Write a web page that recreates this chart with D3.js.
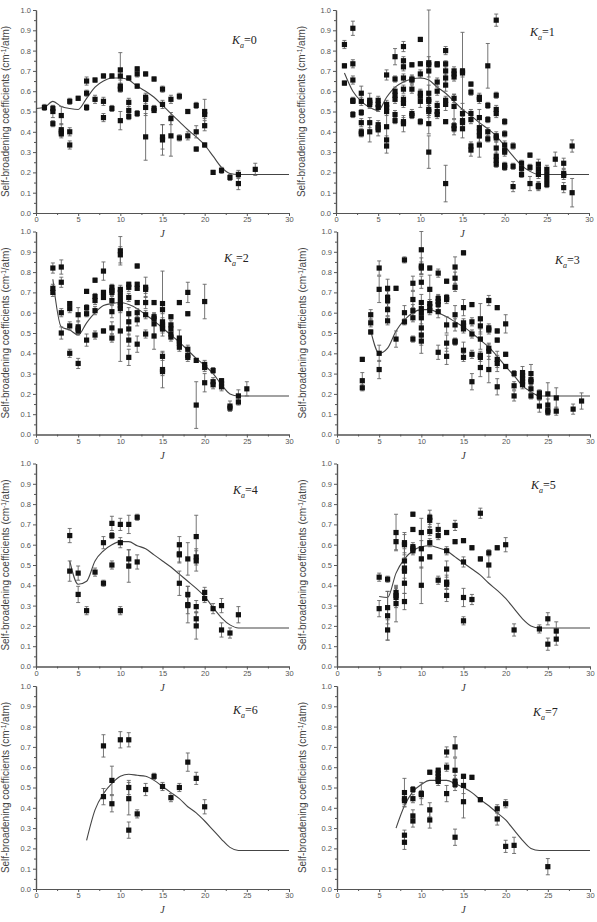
<!DOCTYPE html>
<html>
<head>
<meta charset="utf-8">
<script src="https://cdn.jsdelivr.net/npm/d3@7"></script>
<style>
  body { margin: 0; background: #fff; }
  svg { display: block; }
</style>
</head>
<body>
<div id="chart"></div>
<script>
// data: [J, coefficient, error]
var ka0 = [
  [1,0.52,0.015],[2,0.515,0.015],[2,0.50,0.03],[2,0.44,0.015],[3,0.48,0.045],[3,0.41,0.03],[3,0.40,0.02],[3,0.39,0.02],
  [4,0.55,0.015],[4,0.40,0.02],[4,0.335,0.02],[5,0.565,0.01],[6,0.65,0.02],[6,0.59,0.015],[6,0.52,0.015],
  [7,0.655,0.01],[7,0.56,0.02],[8,0.675,0.01],[8,0.55,0.02],[8,0.47,0.02],[9,0.675,0.01],[9,0.515,0.015],
  [10,0.705,0.085],[10,0.675,0.02],[10,0.625,0.015],[10,0.61,0.015],[10,0.455,0.045],
  [11,0.665,0.01],[11,0.545,0.02],[11,0.505,0.02],[11,0.475,0.015],
  [12,0.71,0.01],[12,0.685,0.015],[12,0.625,0.01],[12,0.49,0.015],
  [13,0.685,0.01],[13,0.57,0.02],[13,0.56,0.02],[13,0.52,0.04],[13,0.375,0.115],
  [14,0.66,0.01],[14,0.515,0.015],[14,0.505,0.01],
  [15,0.61,0.015],[15,0.535,0.02],[15,0.375,0.06],[15,0.36,0.075],
  [16,0.56,0.02],[16,0.465,0.03],[16,0.38,0.1],[17,0.575,0.015],[17,0.37,0.015],
  [18,0.50,0.01],[18,0.38,0.02],[19,0.53,0.015],[19,0.40,0.03],[19,0.315,0.01],
  [20,0.50,0.06],[20,0.485,0.02],[20,0.43,0.025],[20,0.335,0.01],
  [21,0.20,0.01],[22,0.21,0.015],[23,0.175,0.015],[24,0.19,0.02],[24,0.145,0.03],[26,0.215,0.03]
];
var ka1 = [
  [1,0.83,0.02],[1,0.725,0.01],[1,0.64,0.01],
  [2,0.91,0.035],[2,0.735,0.02],[2,0.655,0.02],[2,0.555,0.015],[2,0.55,0.01],[2,0.485,0.015],
  [3,0.59,0.035],[3,0.55,0.02],[3,0.495,0.015],[3,0.445,0.02],[3,0.40,0.015],[3,0.39,0.015],
  [4,0.555,0.035],[4,0.545,0.02],[4,0.535,0.02],[4,0.445,0.025],[4,0.40,0.05],
  [5,0.555,0.02],[5,0.535,0.02],[5,0.52,0.02],[5,0.435,0.02],[5,0.42,0.02],[5,0.41,0.03],
  [6,0.68,0.025],[6,0.535,0.02],[6,0.52,0.02],[6,0.50,0.02],[6,0.425,0.07],[6,0.36,0.02],[6,0.33,0.035],
  [7,0.77,0.04],[7,0.66,0.015],[7,0.60,0.02],[7,0.58,0.02],[7,0.56,0.02],[7,0.485,0.02],[7,0.455,0.015],
  [8,0.82,0.025],[8,0.75,0.02],[8,0.72,0.02],[8,0.665,0.02],[8,0.61,0.02],[8,0.56,0.02],[8,0.54,0.02],[8,0.45,0.02],[8,0.44,0.04],
  [9,0.73,0.01],[9,0.66,0.02],[9,0.655,0.02],[9,0.61,0.02],[9,0.49,0.02],[9,0.48,0.015],
  [10,0.855,0.01],[10,0.735,0.01],[10,0.685,0.02],[10,0.59,0.02],[10,0.575,0.03],[10,0.55,0.03],[10,0.45,0.015],
  [11,0.74,0.26],[11,0.73,0.04],[11,0.70,0.03],[11,0.59,0.04],[11,0.56,0.03],[11,0.55,0.03],[11,0.51,0.03],[11,0.50,0.03],[11,0.44,0.05],[11,0.30,0.08],
  [12,0.735,0.01],[12,0.73,0.01],[12,0.645,0.02],[12,0.60,0.02],[12,0.53,0.02],[12,0.50,0.02],[12,0.485,0.02],
  [13,0.80,0.02],[13,0.735,0.015],[13,0.70,0.02],[13,0.665,0.02],[13,0.63,0.03],[13,0.555,0.02],[13,0.535,0.03],[13,0.45,0.01],[13,0.145,0.09],
  [14,0.70,0.02],[14,0.685,0.02],[14,0.67,0.02],[14,0.565,0.02],[14,0.525,0.06],[14,0.43,0.03],[14,0.415,0.03],
  [15,0.70,0.19],[15,0.69,0.02],[15,0.49,0.05],[15,0.455,0.03],[15,0.445,0.03],[15,0.415,0.045],
  [16,0.635,0.01],[16,0.595,0.015],[16,0.49,0.02],[16,0.46,0.02],[16,0.33,0.02],[16,0.31,0.03],
  [17,0.57,0.02],[17,0.56,0.02],[17,0.47,0.04],[17,0.42,0.05],[17,0.40,0.03],[17,0.38,0.03],[17,0.335,0.06],
  [18,0.725,0.11],[18,0.53,0.015],[18,0.46,0.015],[18,0.40,0.02],[18,0.365,0.015],
  [19,0.95,0.03],[19,0.58,0.015],[19,0.51,0.02],[19,0.49,0.02],[19,0.38,0.02],[19,0.37,0.02],[19,0.32,0.03],[19,0.28,0.02],[19,0.26,0.02],[19,0.24,0.015],
  [20,0.45,0.015],[20,0.39,0.015],[20,0.335,0.02],[20,0.31,0.02],[20,0.30,0.02],[20,0.235,0.015],[20,0.225,0.015],
  [21,0.33,0.015],[21,0.23,0.015],[21,0.13,0.025],
  [22,0.245,0.015],[22,0.22,0.02],[22,0.19,0.015],
  [23,0.285,0.01],[23,0.225,0.015],[23,0.145,0.035],
  [24,0.24,0.025],[24,0.215,0.02],[24,0.19,0.02],[24,0.135,0.02],[24,0.13,0.02],
  [25,0.215,0.02],[25,0.19,0.02],[25,0.165,0.02],[25,0.14,0.015],
  [26,0.265,0.035],
  [27,0.245,0.025],[27,0.195,0.02],[27,0.185,0.02],[27,0.125,0.025],
  [28,0.33,0.03],[28,0.10,0.07]
];
var ka2 = [
  [2,0.82,0.025],[2,0.72,0.02],[2,0.70,0.02],
  [3,0.825,0.035],[3,0.75,0.025],[3,0.60,0.02],[3,0.50,0.03],
  [4,0.645,0.01],[4,0.62,0.02],[4,0.535,0.02],[4,0.40,0.02],
  [5,0.59,0.035],[5,0.53,0.03],[5,0.52,0.02],[5,0.51,0.02],[5,0.35,0.025],
  [6,0.705,0.01],[6,0.625,0.015],[6,0.595,0.015],[6,0.465,0.03],
  [7,0.76,0.01],[7,0.68,0.015],[7,0.66,0.02],[7,0.61,0.02],[7,0.49,0.02],
  [8,0.805,0.045],[8,0.70,0.01],[8,0.675,0.01],[8,0.51,0.01],
  [9,0.725,0.015],[9,0.71,0.015],[9,0.70,0.015],[9,0.66,0.02],[9,0.605,0.03],[9,0.525,0.03],[9,0.475,0.02],
  [10,0.905,0.07],[10,0.885,0.04],[10,0.715,0.02],[10,0.70,0.02],[10,0.675,0.02],[10,0.65,0.02],[10,0.635,0.02],[10,0.62,0.02],[10,0.51,0.15],
  [11,0.74,0.01],[11,0.725,0.02],[11,0.675,0.02],[11,0.595,0.03],[11,0.555,0.03],[11,0.52,0.03],[11,0.465,0.03],[11,0.38,0.04],
  [12,0.83,0.01],[12,0.74,0.01],[12,0.72,0.01],[12,0.65,0.01],[12,0.60,0.02],[12,0.565,0.03],[12,0.445,0.04],
  [13,0.725,0.05],[13,0.715,0.02],[13,0.65,0.03],[13,0.59,0.02],[13,0.495,0.02],
  [14,0.65,0.01],[14,0.58,0.02],[14,0.57,0.02],[14,0.545,0.05],[14,0.485,0.065],
  [15,0.645,0.16],[15,0.615,0.02],[15,0.555,0.02],[15,0.54,0.02],[15,0.53,0.02],[15,0.52,0.02],[15,0.385,0.02],[15,0.32,0.09],[15,0.31,0.02],
  [16,0.58,0.01],[16,0.54,0.02],[16,0.52,0.02],[16,0.495,0.02],[16,0.48,0.02],
  [17,0.65,0.01],[17,0.475,0.04],[17,0.46,0.02],[17,0.45,0.02],[17,0.43,0.02],
  [18,0.70,0.05],[18,0.595,0.01],[18,0.42,0.02],[18,0.39,0.02],[18,0.38,0.02],
  [19,0.365,0.01],[19,0.145,0.115],
  [20,0.655,0.085],[20,0.345,0.02],[20,0.33,0.02],[20,0.255,0.045],
  [21,0.315,0.015],[21,0.26,0.02],[21,0.245,0.02],
  [22,0.265,0.01],[22,0.25,0.02],[22,0.235,0.02],
  [23,0.14,0.025],[23,0.13,0.015],
  [24,0.19,0.03],[24,0.16,0.015],
  [25,0.225,0.035]
];
var ka3 = [
  [3,0.37,0.01],[3,0.265,0.04],[3,0.23,0.015],
  [4,0.59,0.025],[4,0.55,0.02],[4,0.505,0.01],
  [5,0.82,0.035],[5,0.715,0.065],[5,0.40,0.04],[5,0.32,0.045],
  [6,0.72,0.045],[6,0.675,0.03],[6,0.66,0.03],[6,0.615,0.03],[6,0.56,0.02],
  [7,0.72,0.01],[7,0.47,0.04],
  [8,0.86,0.015],[8,0.60,0.035],[8,0.555,0.015],
  [9,0.745,0.035],[9,0.665,0.04],[9,0.61,0.03],[9,0.575,0.02],[9,0.47,0.015],
  [10,0.91,0.12],[10,0.83,0.04],[10,0.82,0.03],[10,0.75,0.03],[10,0.65,0.04],[10,0.62,0.03],[10,0.60,0.03],[10,0.575,0.03],[10,0.525,0.06],[10,0.49,0.09],[10,0.46,0.02],
  [11,0.82,0.01],[11,0.715,0.07],[11,0.645,0.02],[11,0.63,0.02],[11,0.61,0.02],
  [12,0.795,0.02],[12,0.67,0.02],[12,0.655,0.03],[12,0.64,0.03],[12,0.605,0.03],[12,0.405,0.035],
  [13,0.755,0.01],[13,0.675,0.015],[13,0.665,0.02],[13,0.54,0.04],[13,0.45,0.04],[13,0.385,0.04],
  [14,0.825,0.05],[14,0.77,0.03],[14,0.725,0.02],[14,0.59,0.045],[14,0.54,0.03],[14,0.46,0.015],[14,0.455,0.015],
  [15,0.895,0.01],[15,0.625,0.04],[15,0.55,0.02],[15,0.535,0.02],[15,0.52,0.02],[15,0.415,0.04],[15,0.38,0.02],
  [16,0.64,0.01],[16,0.555,0.02],[16,0.495,0.02],[16,0.395,0.02],[16,0.26,0.04],
  [17,0.57,0.075],[17,0.535,0.03],[17,0.47,0.05],[17,0.39,0.02],[17,0.38,0.02],[17,0.33,0.045],
  [18,0.66,0.025],[18,0.525,0.02],[18,0.515,0.02],[18,0.425,0.02],[18,0.41,0.04],[18,0.32,0.065],
  [19,0.625,0.01],[19,0.51,0.01],[19,0.465,0.01],[19,0.37,0.04],[19,0.35,0.04],[19,0.235,0.04],
  [20,0.545,0.045],[20,0.395,0.01],[20,0.335,0.01],
  [21,0.30,0.015],[21,0.24,0.02],[21,0.19,0.025],
  [22,0.305,0.03],[22,0.29,0.02],[22,0.275,0.02],[22,0.26,0.02],[22,0.245,0.02],
  [23,0.30,0.045],[23,0.27,0.02],[23,0.26,0.02],[23,0.225,0.02],[23,0.19,0.015],
  [24,0.205,0.015],[24,0.19,0.015],[24,0.185,0.015],[24,0.14,0.03],
  [25,0.20,0.055],[25,0.145,0.03],[25,0.12,0.02],[25,0.11,0.015],
  [26,0.18,0.05],[26,0.115,0.02],
  [28,0.125,0.025],
  [29,0.165,0.04]
];
var ka4 = [
  [4,0.645,0.035],[4,0.47,0.05],[5,0.46,0.035],[5,0.355,0.04],[6,0.275,0.02],[7,0.465,0.02],
  [8,0.61,0.03],[8,0.41,0.015],[9,0.705,0.035],[9,0.645,0.015],[9,0.50,0.02],
  [10,0.70,0.03],[10,0.61,0.025],[10,0.275,0.02],[11,0.70,0.045],[11,0.53,0.045],[11,0.495,0.08],
  [12,0.735,0.015],[12,0.515,0.035],
  [17,0.60,0.04],[17,0.555,0.04],[17,0.55,0.04],[17,0.41,0.06],
  [18,0.53,0.08],[18,0.355,0.04],[18,0.305,0.09],[18,0.30,0.04],
  [19,0.64,0.105],[19,0.54,0.04],[19,0.52,0.05],[19,0.295,0.03],[19,0.235,0.035],[19,0.20,0.065],
  [20,0.365,0.025],[20,0.335,0.02],[21,0.285,0.025],[22,0.30,0.035],[22,0.18,0.035],
  [23,0.165,0.025],[24,0.255,0.04]
];
var ka5 = [
  [5,0.44,0.02],[5,0.285,0.04],
  [6,0.43,0.015],[6,0.29,0.08],[6,0.25,0.12],[6,0.18,0.05],
  [7,0.66,0.09],[7,0.615,0.04],[7,0.365,0.03],[7,0.35,0.035],[7,0.34,0.05],[7,0.31,0.09],
  [8,0.61,0.05],[8,0.60,0.05],[8,0.52,0.06],[8,0.485,0.05],[8,0.47,0.05],[8,0.41,0.05],[8,0.32,0.04],
  [9,0.75,0.01],[9,0.675,0.01],[9,0.59,0.02],[9,0.58,0.02],[9,0.57,0.02],
  [10,0.66,0.07],[10,0.58,0.04],[10,0.53,0.045],[10,0.40,0.09],
  [11,0.735,0.035],[11,0.72,0.03],[11,0.665,0.02],[11,0.61,0.02],[11,0.54,0.01],
  [12,0.675,0.03],[12,0.645,0.02],[12,0.425,0.02],
  [13,0.66,0.01],[13,0.57,0.02],[13,0.48,0.04],[13,0.415,0.035],[13,0.405,0.02],[13,0.35,0.03],
  [14,0.695,0.025],[14,0.615,0.01],
  [15,0.62,0.01],[15,0.515,0.025],[15,0.34,0.045],[15,0.225,0.02],
  [16,0.585,0.01],[16,0.33,0.025],[17,0.755,0.025],[17,0.53,0.01],
  [18,0.56,0.015],[18,0.50,0.06],[19,0.585,0.01],[20,0.60,0.035],[21,0.18,0.03],
  [24,0.185,0.02],[25,0.235,0.03],[25,0.11,0.03],[26,0.175,0.045],[26,0.135,0.03]
];
var ka6 = [
  [8,0.705,0.055],[8,0.455,0.04],[9,0.535,0.07],[9,0.42,0.04],[10,0.735,0.04],
  [11,0.735,0.035],[11,0.50,0.035],[11,0.445,0.08],[11,0.29,0.04],[12,0.37,0.02],
  [13,0.49,0.03],[14,0.555,0.015],[15,0.505,0.02],[16,0.45,0.02],[17,0.50,0.02],
  [18,0.625,0.045],[19,0.545,0.03],[20,0.405,0.035]
];
var ka7 = [
  [8,0.475,0.07],[8,0.445,0.03],[8,0.435,0.03],[8,0.265,0.025],[8,0.23,0.035],
  [9,0.49,0.015],[9,0.445,0.02],[9,0.36,0.03],[9,0.335,0.03],
  [10,0.47,0.055],[10,0.465,0.02],[11,0.575,0.01],[11,0.39,0.035],[11,0.34,0.04],
  [12,0.585,0.01],[12,0.57,0.01],[12,0.555,0.02],[12,0.54,0.02],[12,0.53,0.02],
  [13,0.675,0.025],[13,0.60,0.02],[13,0.47,0.04],
  [14,0.70,0.05],[14,0.585,0.06],[14,0.53,0.03],[14,0.515,0.03],[14,0.255,0.04],
  [15,0.555,0.01],[15,0.51,0.04],[15,0.43,0.08],[16,0.55,0.01],[17,0.44,0.01],
  [19,0.395,0.02],[19,0.345,0.03],[20,0.42,0.02],[20,0.21,0.03],[21,0.215,0.04],[25,0.11,0.04]
];

// fitted curves: [J, coefficient]
var fit0 = [[0,0.515],[1,0.52],[2,0.55],[3,0.525],[4,0.515],[5,0.51],[6,0.565],[7,0.62],[8,0.65],[9,0.665],[10,0.665],[11,0.655],[12,0.625],[13,0.60],[14,0.57],[15,0.53],[16,0.49],[17,0.45],[18,0.41],[19,0.375],[20,0.335],[21,0.28],[22,0.225],[23,0.195],[24,0.19],[30,0.19]];
var fit1 = [[1,0.69],[2,0.60],[3,0.55],[4,0.52],[5,0.505],[6,0.57],[7,0.62],[8,0.645],[9,0.66],[10,0.665],[11,0.655],[12,0.62],[13,0.59],[14,0.55],[15,0.51],[16,0.48],[17,0.445],[18,0.415],[19,0.38],[20,0.33],[21,0.28],[22,0.235],[23,0.205],[24,0.19],[30,0.19]];
var fit2 = [[2,0.765],[3,0.53],[4,0.515],[5,0.49],[6,0.55],[7,0.60],[8,0.635],[9,0.645],[10,0.65],[11,0.64],[12,0.62],[13,0.59],[14,0.56],[15,0.525],[16,0.49],[17,0.455],[18,0.415],[19,0.375],[20,0.34],[21,0.30],[22,0.245],[23,0.20],[24,0.19],[30,0.19]];
var fit3 = [[4,0.51],[5,0.40],[6,0.425],[7,0.51],[8,0.565],[9,0.60],[10,0.615],[11,0.615],[12,0.60],[13,0.58],[14,0.555],[15,0.53],[16,0.50],[17,0.465],[18,0.43],[19,0.385],[20,0.335],[21,0.29],[22,0.24],[23,0.21],[24,0.19],[30,0.19]];
var fit4 = [[4,0.52],[5,0.405],[6,0.42],[7,0.52],[8,0.57],[9,0.60],[10,0.615],[11,0.615],[12,0.595],[13,0.58],[14,0.55],[15,0.52],[16,0.49],[17,0.455],[18,0.42],[19,0.385],[20,0.345],[21,0.29],[22,0.24],[23,0.205],[24,0.19],[30,0.19]];
var fit5 = [[5,0.345],[6,0.34],[7,0.46],[8,0.53],[9,0.57],[10,0.59],[11,0.595],[12,0.585],[13,0.57],[14,0.54],[15,0.51],[16,0.48],[17,0.45],[18,0.41],[19,0.375],[20,0.335],[21,0.285],[22,0.235],[23,0.20],[24,0.19],[30,0.19]];
var fit6 = [[6,0.24],[7,0.39],[8,0.47],[9,0.52],[10,0.555],[11,0.565],[12,0.56],[13,0.555],[14,0.535],[15,0.505],[16,0.475],[17,0.445],[18,0.405],[19,0.375],[20,0.335],[21,0.29],[22,0.245],[23,0.205],[24,0.19],[30,0.19]];
var fit7 = [[7,0.30],[8,0.41],[9,0.48],[10,0.515],[11,0.535],[12,0.535],[13,0.535],[14,0.52],[15,0.50],[16,0.475],[17,0.44],[18,0.41],[19,0.375],[20,0.34],[21,0.29],[22,0.24],[23,0.20],[24,0.19],[30,0.19]];

var kaValues = ["0","1","2","3","4","5","6","7"];
var xTicks = [0, 5, 10, 15, 20, 25, 30];
var xMinor = [2.5, 7.5, 12.5, 17.5, 22.5, 27.5];
var yTicks = [0, 0.1, 0.2, 0.3, 0.4, 0.5, 0.6, 0.7, 0.8, 0.9, 1.0];
var yMinor = [0.05, 0.15, 0.25, 0.35, 0.45, 0.55, 0.65, 0.75, 0.85, 0.95];

var points = [ka0, ka1, ka2, ka3, ka4, ka5, ka6, ka7];
var fits = [fit0, fit1, fit2, fit3, fit4, fit5, fit6, fit7];

// panel placement (plot area top-left corner, label offset)
var panels = [
  {x: 36,  y: 10,    lx: 196, ly: 34},
  {x: 336, y: 10,    lx: 194, ly: 26},
  {x: 36,  y: 231.5, lx: 188, ly: 30},
  {x: 337, y: 231.5, lx: 218, ly: 32},
  {x: 36,  y: 463.5, lx: 197, ly: 30},
  {x: 337, y: 463.5, lx: 194, ly: 25},
  {x: 36,  y: 686,   lx: 197, ly: 28},
  {x: 337, y: 686,   lx: 196, ly: 30}
];
var pw = 253, ph = 203;

var svg = d3.select("#chart")
  .append("svg")
    .attr("width", 597)
    .attr("height", 922);

var x = d3.scaleLinear().domain([0, 30]).range([0, pw]);
var y = d3.scaleLinear().domain([0, 1]).range([ph, 0]);

var axisColor = "#555";
var font = "'Liberation Sans', Arial, sans-serif";

panels.forEach(function(p, i) {
  var g = svg.append("g")
    .attr("transform", "translate(" + p.x + "," + p.y + ")");

  // minor ticks
  g.append("g")
    .attr("transform", "translate(0," + ph + ")")
    .call(d3.axisBottom(x).tickValues(xMinor).tickSize(2).tickFormat("").tickSizeOuter(0));
  g.append("g")
    .call(d3.axisLeft(y).tickValues(yMinor).tickSize(2).tickFormat("").tickSizeOuter(0));

  // X axis
  g.append("g")
    .attr("class", "xaxis")
    .attr("transform", "translate(0," + ph + ")")
    .call(d3.axisBottom(x).tickValues(xTicks).tickSize(3).tickPadding(1).tickSizeOuter(0));

  // Y axis
  g.append("g")
    .attr("class", "yaxis")
    .call(d3.axisLeft(y).tickValues(yTicks).tickSize(3).tickPadding(2)
      .tickFormat(d3.format(".1f")).tickSizeOuter(0));

  g.selectAll(".domain").attr("stroke", axisColor).attr("stroke-width", 1.2);
  g.selectAll(".tick line").attr("stroke", axisColor);
  g.selectAll(".tick text")
    .attr("fill", "#555")
    .style("font-family", font)
    .style("font-size", "7.5px");

  // y axis title
  var yt = g.append("text")
    .attr("transform", "translate(" + (i % 2 === 0 ? -27 : -31) + "," + (ph / 2) + ")rotate(-90)")
    .attr("text-anchor", "middle")
    .style("font-family", font)
    .style("font-size", "10px")
    .attr("fill", "#444");
  yt.append("tspan").text("Self-broadening coefficients (cm");
  yt.append("tspan").attr("dy", -3).style("font-size", "6.5px").text("-1");
  yt.append("tspan").attr("dy", 3).text("/atm)");

  // x axis title
  g.append("text")
    .attr("x", pw / 2)
    .attr("y", ph + 24)
    .attr("text-anchor", "middle")
    .style("font-family", "'Liberation Serif', 'Times New Roman', serif")
    .style("font-style", "italic")
    .style("font-size", "10px")
    .attr("fill", "#333")
    .text("J");

  // fitted line
  var line = d3.line()
    .x(function(d) { return x(d[0]); })
    .y(function(d) { return y(d[1]); })
    .curve(d3.curveMonotoneX);
  g.append("path")
    .datum(fits[i])
    .attr("fill", "none")
    .attr("stroke", "#444")
    .attr("stroke-width", 1.1)
    .attr("d", line);

  // error bars
  var eb = g.selectAll(".err")
    .data(points[i])
    .enter().append("g")
    .attr("stroke", "#666")
    .attr("stroke-width", 0.9);
  eb.append("line")
    .attr("x1", function(d) { return x(d[0]); })
    .attr("x2", function(d) { return x(d[0]); })
    .attr("y1", function(d) { return y(d[1] - d[2]); })
    .attr("y2", function(d) { return y(Math.min(1, d[1] + d[2])); });
  eb.append("line")
    .attr("x1", function(d) { return x(d[0]) - 2; })
    .attr("x2", function(d) { return x(d[0]) + 2; })
    .attr("y1", function(d) { return y(d[1] - d[2]); })
    .attr("y2", function(d) { return y(d[1] - d[2]); });
  eb.append("line")
    .attr("x1", function(d) { return x(d[0]) - 2; })
    .attr("x2", function(d) { return x(d[0]) + 2; })
    .attr("y1", function(d) { return y(Math.min(1, d[1] + d[2])); })
    .attr("y2", function(d) { return y(Math.min(1, d[1] + d[2])); });

  // markers
  g.selectAll(".pt")
    .data(points[i])
    .enter().append("rect")
    .attr("x", function(d) { return x(d[0]) - 2.6; })
    .attr("y", function(d) { return y(d[1]) - 2.6; })
    .attr("width", 5.2)
    .attr("height", 5.2)
    .attr("fill", "#111");

  // K_a label
  var kt = g.append("text")
    .attr("x", p.lx)
    .attr("y", p.ly)
    .style("font-family", "'Liberation Serif', 'Times New Roman', serif")
    .style("font-size", "12px")
    .attr("fill", "#222");
  kt.append("tspan").style("font-style", "italic").text("K");
  kt.append("tspan").attr("dy", 4).style("font-style", "italic").style("font-size", "8px").text("a");
  kt.append("tspan").attr("dy", -4).text("=" + kaValues[i]);
});
</script>
</body>
</html>
